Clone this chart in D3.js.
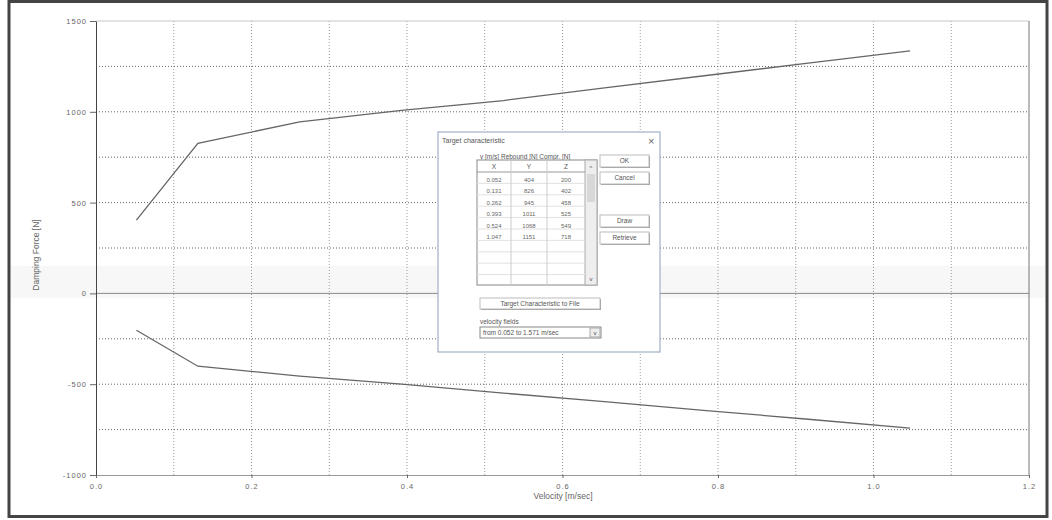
<!DOCTYPE html>
<html>
<head>
<meta charset="utf-8">
<script src="https://cdn.jsdelivr.net/npm/d3@7"></script>
<style>
  body { margin: 0; background: #fff; }
  svg { display: block; font-family: "Liberation Sans", Arial, sans-serif; }
</style>
</head>
<body>
<svg width="1052" height="520"></svg>
<script>
"use strict";

// velocity [m/s] and damping force [N]
var velocity = [0.052, 0.131, 0.262, 0.393, 0.524, 0.654, 0.785, 0.916, 1.047];
var rebound = [404, 826, 945, 1008, 1062, 1132, 1200, 1268, 1336];
var compression = [-203, -401, -455, -500, -549, -596, -645, -693, -742];

var xTicks = [0, 0.2, 0.4, 0.6, 0.8, 1.0, 1.2];
var yTicks = [-1000, -500, 0, 500, 1000, 1500];
var xGrid = [0.1, 0.2, 0.3, 0.4, 0.5, 0.6, 0.7, 0.8, 0.9, 1.0, 1.1];
var yGrid = [-750, -500, -250, 250, 500, 750, 1000, 1250];

// rows shown in the dialog table
var tableX = ["0.052", "0.131", "0.262", "0.393", "0.524", "1.047"];
var tableY = ["404", "826", "945", "1011", "1068", "1151"];
var tableZ = ["200", "402", "458", "525", "549", "718"];

var svg = d3.select("svg");

// outer window frame
svg.append("rect")
    .attr("x", 9).attr("y", 1.5)
    .attr("width", 1038).attr("height", 515)
    .attr("fill", "#fff")
    .attr("stroke", "#444")
    .attr("stroke-width", 3);

// faint scanner band
svg.append("rect")
    .attr("x", 11).attr("y", 266)
    .attr("width", 1034).attr("height", 32)
    .attr("fill", "#f7f7f7");

var x = d3.scaleLinear().domain([0, 1.2]).range([96, 1029]);
var y = d3.scaleLinear().domain([-1000, 1500]).range([475, 21]);

// grid
svg.append("g").selectAll("line").data(xGrid).enter()
    .append("line")
    .attr("x1", function (d) { return x(d); })
    .attr("x2", function (d) { return x(d); })
    .attr("y1", y(1500)).attr("y2", y(-1000))
    .attr("stroke", "#9a9a9a")
    .attr("stroke-dasharray", "1,2");

svg.append("g").selectAll("line").data(yGrid).enter()
    .append("line")
    .attr("x1", x(0)).attr("x2", x(1.2))
    .attr("y1", function (d) { return y(d); })
    .attr("y2", function (d) { return y(d); })
    .attr("stroke", "#666")
    .attr("stroke-dasharray", "1,2");

// zero line, top and right edges
svg.append("line")
    .attr("x1", x(0)).attr("x2", x(1.2))
    .attr("y1", y(0)).attr("y2", y(0))
    .attr("stroke", "#8a8a8a");
svg.append("line")
    .attr("x1", x(0)).attr("x2", x(1.2))
    .attr("y1", y(1500)).attr("y2", y(1500))
    .attr("stroke", "#c8c8c8");
svg.append("line")
    .attr("x1", x(1.2)).attr("x2", x(1.2))
    .attr("y1", y(1500)).attr("y2", y(-1000))
    .attr("stroke", "#777");

// axes
var yAxis = svg.append("g")
    .attr("transform", "translate(" + x(0) + ",0)")
    .call(d3.axisLeft(y).tickValues(yTicks).tickSize(6).tickSizeOuter(0).tickPadding(3)
        .tickFormat(function (d) { return String(d); }));
var xAxis = svg.append("g")
    .attr("transform", "translate(0," + y(-1000) + ")")
    .call(d3.axisBottom(x).tickValues(xTicks).tickSize(3).tickSizeOuter(0)
        .tickPadding(6).tickFormat(d3.format(".1f")));

yAxis.select(".domain").attr("stroke", "#444");
xAxis.select(".domain").attr("stroke", "#999");
[yAxis, xAxis].forEach(function (a) {
    a.selectAll(".tick line").attr("stroke", "#666");
    a.selectAll(".tick text")
        .attr("fill", "#666")
        .style("font-size", "7.5px")
        .style("letter-spacing", "1px");
});

// axis titles
svg.append("text")
    .attr("transform", "translate(39,255) rotate(-90)")
    .attr("text-anchor", "middle")
    .attr("fill", "#666")
    .style("font-size", "8.5px")
    .text("Damping Force  [N]");
svg.append("text")
    .attr("x", 563).attr("y", 499)
    .attr("text-anchor", "middle")
    .attr("fill", "#666")
    .style("font-size", "8.5px")
    .text("Velocity  [m/sec]");

// curves
var line = d3.line()
    .x(function (d) { return x(d[0]); })
    .y(function (d) { return y(d[1]); });

[rebound, compression].forEach(function (series) {
    svg.append("path")
        .datum(d3.zip(velocity, series))
        .attr("d", line)
        .attr("fill", "none")
        .attr("stroke", "#666")
        .attr("stroke-width", 1.3);
});

// ---- "Target characteristic" dialog ----
var dlg = svg.append("g").attr("transform", "translate(438,132)");
var dw = 222, dh = 220;

dlg.append("rect")
    .attr("width", dw).attr("height", dh)
    .attr("fill", "#fff")
    .attr("stroke", "#9fb0c8")
    .attr("stroke-width", 1.2);
dlg.append("text")
    .attr("x", 4).attr("y", 11)
    .attr("fill", "#555")
    .style("font-size", "7px")
    .text("Target characteristic");
dlg.append("text")
    .attr("x", dw - 12).attr("y", 13)
    .attr("fill", "#666")
    .style("font-size", "11px")
    .text("×");

dlg.append("text")
    .attr("x", 42).attr("y", 27)
    .attr("fill", "#555")
    .style("font-size", "6.5px")
    .text("v  [m/s]   Rebound [N]   Compr. [N]");

// table
var tx = 39, ty = 28, tw = 120, th = 125;
var colX = [0, 34, 70, 108];
var rowH = 11.4;
dlg.append("rect")
    .attr("x", tx).attr("y", ty)
    .attr("width", tw).attr("height", th)
    .attr("fill", "#fff")
    .attr("stroke", "#888");
dlg.append("rect")
    .attr("x", tx + colX[3]).attr("y", ty)
    .attr("width", tw - colX[3]).attr("height", th)
    .attr("fill", "#eee")
    .attr("stroke", "#aaa");
dlg.append("rect")
    .attr("x", tx + colX[3] + 2).attr("y", ty + 14)
    .attr("width", tw - colX[3] - 4).attr("height", 28)
    .attr("fill", "#d8d8d8");
dlg.append("text")
    .attr("x", tx + colX[3] + 6).attr("y", ty + 10)
    .attr("text-anchor", "middle")
    .attr("fill", "#444")
    .style("font-size", "6px")
    .text("^");
dlg.append("text")
    .attr("x", tx + colX[3] + 6).attr("y", ty + th - 4)
    .attr("text-anchor", "middle")
    .attr("fill", "#444")
    .style("font-size", "6px")
    .text("v");

var rows = d3.range(10);
dlg.append("g").selectAll("line").data(rows).enter()
    .append("line")
    .attr("x1", tx).attr("x2", tx + colX[3])
    .attr("y1", function (d) { return ty + 12 + d * rowH; })
    .attr("y2", function (d) { return ty + 12 + d * rowH; })
    .attr("stroke", function (d) { return d === 0 ? "#999" : "#e2e2e2"; });
dlg.append("g").selectAll("line").data([colX[1], colX[2]]).enter()
    .append("line")
    .attr("x1", function (d) { return tx + d; })
    .attr("x2", function (d) { return tx + d; })
    .attr("y1", ty).attr("y2", ty + th)
    .attr("stroke", "#ccc");

["X", "Y", "Z"].forEach(function (h, i) {
    dlg.append("text")
        .attr("x", tx + (colX[i] + colX[i + 1]) / 2).attr("y", ty + 9)
        .attr("text-anchor", "middle")
        .attr("fill", "#555")
        .style("font-size", "6.5px")
        .text(h);
});
[tableX, tableY, tableZ].forEach(function (col, i) {
    dlg.append("g").selectAll("text").data(col).enter()
        .append("text")
        .attr("x", tx + (colX[i] + colX[i + 1]) / 2)
        .attr("y", function (d, j) { return ty + 22 + j * rowH; })
        .attr("text-anchor", "middle")
        .attr("fill", "#666")
        .style("font-size", "6px")
        .text(function (d) { return d; });
});

// buttons
function button(bx, by, bwid, bht, label) {
    dlg.append("rect")
        .attr("x", bx + 1).attr("y", by + 1)
        .attr("width", bwid).attr("height", bht)
        .attr("fill", "#999");
    dlg.append("rect")
        .attr("x", bx).attr("y", by)
        .attr("width", bwid).attr("height", bht)
        .attr("fill", "#fff")
        .attr("stroke", "#bbb");
    dlg.append("text")
        .attr("x", bx + bwid / 2).attr("y", by + bht / 2 + 2.3)
        .attr("text-anchor", "middle")
        .attr("fill", "#555")
        .style("font-size", "6.5px")
        .text(label);
}
button(162, 23, 49, 12, "OK");
button(162, 40, 49, 12, "Cancel");
button(162, 83, 49, 12, "Draw");
button(162, 100, 49, 12, "Retrieve");
button(42, 166, 120, 11, "Target Characteristic to File");

dlg.append("text")
    .attr("x", 42).attr("y", 192)
    .attr("fill", "#555")
    .style("font-size", "6.5px")
    .text("velocity fields");
dlg.append("rect")
    .attr("x", 42).attr("y", 195)
    .attr("width", 121).attr("height", 11)
    .attr("fill", "#fff")
    .attr("stroke", "#888");
dlg.append("rect")
    .attr("x", 152).attr("y", 196)
    .attr("width", 10).attr("height", 9)
    .attr("fill", "#eee")
    .attr("stroke", "#aaa");
dlg.append("text")
    .attr("x", 157).attr("y", 203)
    .attr("text-anchor", "middle")
    .attr("fill", "#444")
    .style("font-size", "6px")
    .text("v");
dlg.append("text")
    .attr("x", 45).attr("y", 203)
    .attr("fill", "#555")
    .style("font-size", "6.5px")
    .text("from 0.052 to 1.571 m/sec");
</script>
</body>
</html>
